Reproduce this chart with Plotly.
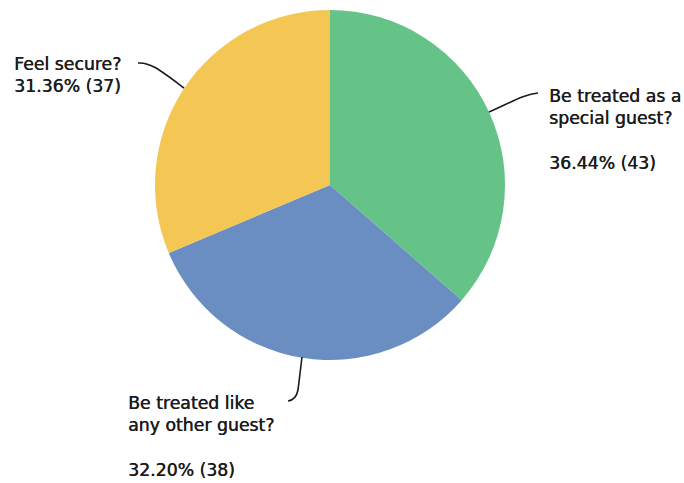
import plotly.graph_objects as go

# Survey answers: share of respondents and counts
labels = ["Be treated as a special guest?", "Be treated like any other guest?", "Feel secure?"]
percents = [36.44, 32.20, 31.36]
counts = [43, 38, 37]
colors = ["#66C388", "#6A8DC2", "#F4C653"]

W, H = 684, 483


def px(x):
    return x / W


def py(y):
    return 1 - y / H


fig = go.Figure(
    go.Pie(
        labels=labels,
        values=percents,
        marker=dict(colors=colors, line=dict(width=0)),
        sort=False,
        direction="clockwise",
        rotation=0,
        textinfo="none",
        hoverinfo="label+percent",
        showlegend=False,
        domain=dict(x=[px(155), px(505)], y=[py(360), py(10)]),
    )
)

font = dict(family="DejaVu Sans, sans-serif", size=17.3, color="#1b1b1b",
            shadow="0.45px 0 0 #1b1b1b")

# Label blocks: one annotation per text line, so the line spacing is exact
blocks = [
    (547, [96, 118.5, 163], ["Be treated as a", "special guest?",
                              f"{percents[0]:.2f}% ({counts[0]})"]),
    (126, [402.5, 425, 470], ["Be treated like", "any other guest?",
                               f"{percents[1]:.2f}% ({counts[1]})"]),
    (12, [63.5, 86], ["Feel secure?", f"{percents[2]:.2f}% ({counts[2]})"]),
]

for x, ys, lines in blocks:
    for y, line in zip(ys, lines):
        fig.add_annotation(
            text=line, x=px(x), y=py(y), xref="paper", yref="paper",
            xanchor="left", yanchor="middle", align="left", showarrow=False, font=font,
        )


def path(points_cmd):
    out = []
    for item in points_cmd:
        if isinstance(item, str):
            out.append(item)
        else:
            out.append(f"{px(item[0])},{py(item[1])}")
    return " ".join(out)


leaders = [
    ["M", (489, 112), "C", (510, 103), (524, 94), (538, 93)],
    ["M", (302, 357), "L", (298, 390), "Q", (296, 400), (288, 401)],
    ["M", (138, 63), "C", (150, 62), (160, 70), (184, 88)],
]
for cmd in leaders:
    fig.add_shape(type="path", path=path(cmd), xref="paper", yref="paper",
                  line=dict(color="#1b1b1b", width=1.6))

fig.update_layout(
    width=W, height=H,
    margin=dict(l=0, r=0, t=0, b=0),
    paper_bgcolor="white",
    plot_bgcolor="white",
)

fig.write_html("out.html")
